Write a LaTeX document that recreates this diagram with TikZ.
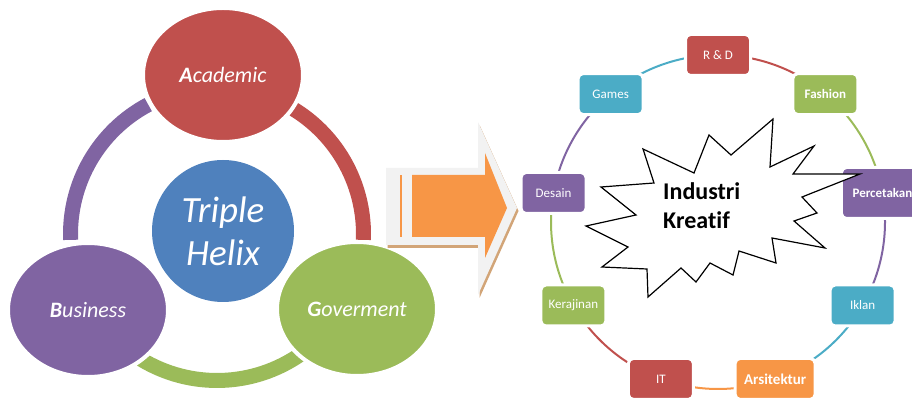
\documentclass[tikz,border=0pt]{standalone}
\usepackage{fontspec}
\setmainfont{Carlito}[Ligatures=NoCommon]
\usetikzlibrary{shapes.geometric,backgrounds}
\definecolor{cred}{HTML}{C0504D}
\definecolor{cblue}{HTML}{4F81BD}
\definecolor{cgreen}{HTML}{9BBB59}
\definecolor{cpurple}{HTML}{8064A2}
\definecolor{cteal}{HTML}{4BACC6}
\definecolor{corange}{HTML}{F79646}
\definecolor{cgray}{HTML}{F2F2F2}
\definecolor{ctan}{RGB}{210,165,120}
\tikzset{
  helix/.style={ellipse,minimum width=160,minimum height=134,draw=white,line width=4,text=white,font=\itshape\fontsize{22}{26}\selectfont},
  box/.style={rectangle,rounded corners=5,minimum width=65,minimum height=41,draw=white,line width=3,text=white,font=\fontsize{13}{15}\selectfont},
  boxtxt/.style={},
  boxbold/.style={font=\bfseries\fontsize{13}{15}\selectfont},
  boxwide/.style={boxbold,minimum width=82,minimum height=51},
  boxbig/.style={font=\bfseries\fontsize{15}{18}\selectfont,minimum width=80},
  kreatif/.style={inner sep=0,anchor=base west,font=\bfseries\fontsize{24}{28}\selectfont}
}
\begin{document}
\begin{tikzpicture}[x=1pt,y=1pt]
\useasboundingbox(0,0)rectangle(912,401);
\coordinate(o)at(217,167);
\coordinate(k)at(718,179);
\draw[cpurple,line width=15](o)++(118:146.5)arc[start angle=118,end angle=182.3,radius=146.5];
\draw[cred,line width=15](o)++(58.6:146.5)arc[start angle=58.6,end angle=-2.3,radius=146.5];
\draw[cgreen,line width=15](o)++(238.6:146.5)arc[start angle=238.6,end angle=305,radius=146.5];
\node[helix,fill=cred](ac)at(223,326){{\bfseries A}cademic};
\node[helix,fill=cpurple](bu)at(88,91){{\bfseries B}usiness};
\node[helix,fill=cgreen](go)at(357,92){{\bfseries G}overment};
\node[circle,fill=cblue,minimum size=142,text=white,align=center,font=\itshape\fontsize{37}{43}\selectfont](th)at(223,170){Triple\\Helix};
\fill[ctan,xshift=1.5,yshift=-3](386,233)--(478,233)--(478,279)--(517,193)--(478,106)--(478,156)--(386,156)--cycle;
\fill[cgray](386,233)--(478,233)--(478,279)--(517,193)--(478,106)--(478,156)--(386,156)--cycle;
\fill[corange](412,226)--(485,226)--(485,248)--(507,193)--(485,143)--(485,164)--(412,164)--cycle;
\fill[corange](400,164)rectangle(402,226);
\foreach \n/\t/\c/\a/\s in {rd/R \& D/cred/90/boxtxt,fa/Fashion/cgreen/50/boxbold,pe/Percetakan/cpurple/10/boxwide,ik/Iklan/cteal/-30/boxtxt,ar/Arsitektur/corange/-70/boxbig,it/IT/cred/-110/boxtxt,ke/Kerajinan/cgreen/-150/boxtxt,de/Desain/cpurple/170/boxtxt,ga/Games/cteal/130/boxtxt}
  \node[box,fill=\c,\s](\n)at([shift={(\a:167)}]k){\t};
\begin{scope}[on background layer]
\foreach \p/\c/\a in {rd/cred/90,fa/cgreen/50,pe/cpurple/10,ik/cteal/-30,ar/corange/-70,it/cred/-110,ke/cgreen/-150,de/cpurple/170,ga/cteal/130}
  \draw[\c,line width=2](\p.center)arc[start angle=\a,end angle=\a-40,radius=167];
\end{scope}
\draw[fill=white,line width=1.2](643,252)--(654,218)--(601,214)--(636,186)--(586,175)--(628,154)--(602,134)--(647,132)--(648,104)--(681,133)--(696,119)--(710,138)--(733,126)--(739,150)--(776,138)--(772,163)--(825,153)--(794,180)--(817,188)--(802,204)--(860,227)--(793,227)--(814,255)--(770,234)--(773,282)--(731,246)--(709,266)--(694,228)--cycle;
\node[kreatif](ind)at(663,201){Industri};
\node[kreatif](kre)at(663,172){Kreatif};
\end{tikzpicture}
\end{document}
